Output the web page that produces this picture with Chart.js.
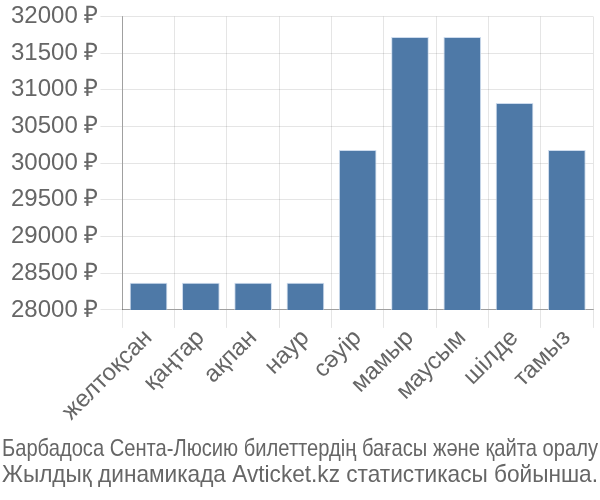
<!DOCTYPE html>
<html>
<head>
<meta charset="utf-8">
<script src="https://cdn.jsdelivr.net/npm/chart.js@4"></script>
<style>
  body { margin: 0; background: #fff; }
  #wrap { width: 600px; height: 500px; }
</style>
</head>
<body>
<div id="wrap"><canvas id="myChart"></canvas></div>
<script>
// months (Kazakh)
const months = ['желтоқсан', 'қаңтар', 'ақпан', 'наур', 'сәуір', 'мамыр', 'маусым', 'шілде', 'тамыз'];
// ticket prices, rubles
const prices = [28370, 28370, 28370, 28370, 30180, 31720, 31720, 30820, 30180];
const titleLines = [
    'Барбадоса Сента-Люсию билеттердің бағасы және қайта оралу',
    'Жылдық динамикада Avticket.kz статистикасы бойынша.'
];

Chart.defaults.font.family = '"Liberation Sans", Arial, sans-serif';
Chart.defaults.color = '#666';

// let the caption use the full canvas width
const wideTitle = {
    id: 'wideTitle',
    afterLayout(chart) {
        const t = chart.titleBlock;
        if (t) {
            t.left = 2;
            t.right = chart.width - 2;
            t.width = t.right - t.left;
        }
    }
};

const ctx = document.getElementById('myChart').getContext('2d');
const myChart = new Chart(ctx, {
    type: 'bar',
    data: {
        labels: months,
        datasets: [{
            data: prices,
            backgroundColor: 'rgb(78, 121, 167)',
            borderColor: 'rgba(200, 215, 235, 0.9)',
            borderWidth: 1
        }]
    },
    options: {
        responsive: true,
        maintainAspectRatio: false,
        animation: false,
        layout: { padding: { top: 0, right: 7, left: 9, bottom: 0 } },
        plugins: {
            legend: { display: false },
            tooltip: { enabled: false },
            title: {
                display: true,
                position: 'bottom',
                text: titleLines,
                font: { size: 24, weight: 'normal', lineHeight: 1.08 },
                color: '#666',
                padding: { top: 14, bottom: 12 }
            }
        },
        scales: {
            x: {
                grid: { color: 'rgba(0,0,0,0.1)', tickLength: 18, lineWidth: 1 },
                border: { color: 'rgba(0,0,0,0.3)' },
                ticks: { font: { size: 24 }, maxRotation: 45, minRotation: 45, padding: -4 }
            },
            y: {
                min: 28000,
                max: 32000,
                grid: { color: 'rgba(0,0,0,0.1)', tickLength: 22 },
                border: { color: 'rgba(0,0,0,0.3)' },
                ticks: {
                    stepSize: 500,
                    font: { size: 24 },
                    padding: 2,
                    callback: (v) => v + ' ₽'
                }
            }
        }
    },
    plugins: [wideTitle]
});
</script>
</body>
</html>
